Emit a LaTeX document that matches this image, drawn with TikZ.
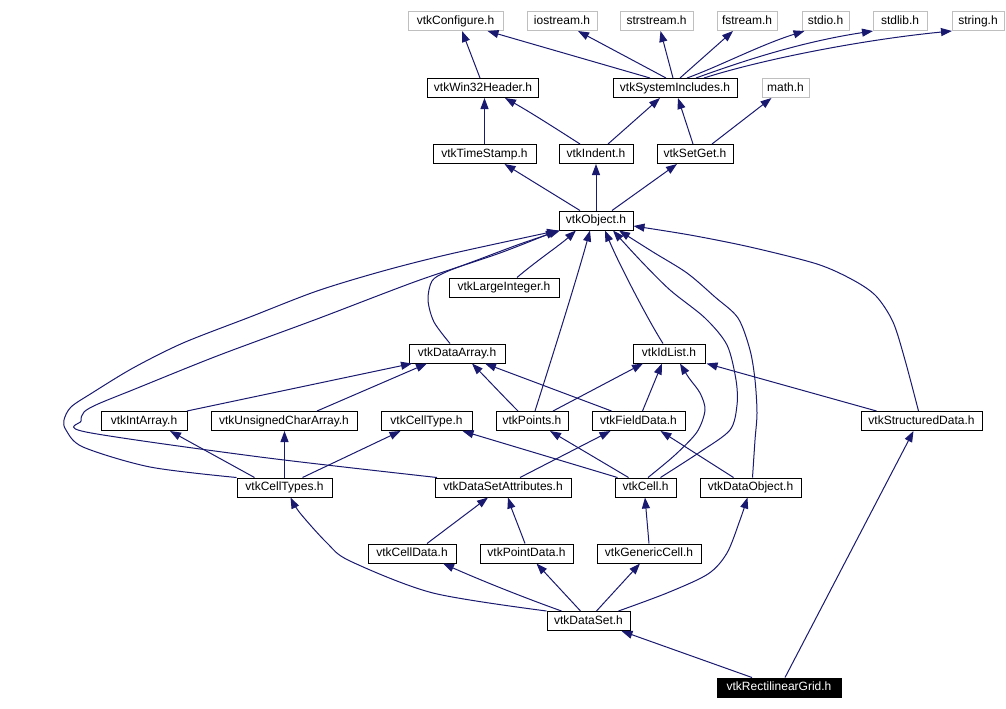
\documentclass[tikz,border=0pt]{standalone}
\usepackage{fontspec}
\setmainfont{Liberation Sans}
\usetikzlibrary{arrows.meta}
\definecolor{edgeblue}{RGB}{25,25,112}
\definecolor{boxgray}{RGB}{191,191,191}
\begin{document}
\begin{tikzpicture}[x=1pt,y=-1pt,
  hbox/.style={draw=black, line width=1pt, rectangle, inner sep=0pt, minimum height=19pt, text height=8.6pt, text depth=2.4pt, font=\fontsize{12}{14}\selectfont},
  sysbox/.style={hbox, draw=boxgray},
  rootbox/.style={hbox, fill=black, text=white},
  e/.style={draw=edgeblue, line width=1pt, -{Triangle[length=11pt,width=8pt]}}
]
\useasboundingbox (0,0) rectangle (1006,709);
% row 1
\node[sysbox, minimum width=95pt] (cfg) at (455.5,21) {vtkConfigure.h};
\node[sysbox, minimum width=70pt] (ios) at (562,21) {iostream.h};
\node[sysbox, minimum width=73pt] (sstr) at (656.5,21) {strstream.h};
\node[sysbox, minimum width=60pt] (fstr) at (747,21) {fstream.h};
\node[sysbox, minimum width=47pt] (stdio) at (825.5,21) {stdio.h};
\node[sysbox, minimum width=54pt] (stdlib) at (900,21) {stdlib.h};
\node[sysbox, minimum width=52pt] (string) at (978,21) {string.h};
% row 2
\node[hbox, minimum width=111pt] (w32) at (483,88) {vtkWin32Header.h};
\node[hbox, minimum width=124pt] (sys) at (675,88) {vtkSystemIncludes.h};
\node[sysbox, minimum width=47pt] (math) at (785.5,88) {math.h};
% row 3
\node[hbox, minimum width=103pt] (ts) at (484.5,154) {vtkTimeStamp.h};
\node[hbox, minimum width=74pt] (ind) at (596,154) {vtkIndent.h};
\node[hbox, minimum width=76pt] (sg) at (695,154) {vtkSetGet.h};
% row 4
\node[hbox, minimum width=74pt] (obj) at (596,220.5) {vtkObject.h};
% row 5
\node[hbox, minimum width=110pt] (li) at (504,287.5) {vtkLargeInteger.h};
% row 6
\node[hbox, minimum width=96pt] (da) at (457,353.5) {vtkDataArray.h};
\node[hbox, minimum width=72pt] (idl) at (669,353.5) {vtkIdList.h};
% row 7
\node[hbox, minimum width=86pt] (ia) at (144,421) {vtkIntArray.h};
\node[hbox, minimum width=146pt] (uca) at (284,421) {vtkUnsignedCharArray.h};
\node[hbox, minimum width=91pt] (ctype) at (426.5,421) {vtkCellType.h};
\node[hbox, minimum width=72pt] (pts) at (532,421) {vtkPoints.h};
\node[hbox, minimum width=93pt] (fd) at (638.5,421) {vtkFieldData.h};
\node[hbox, minimum width=121pt] (sd) at (921.5,421) {vtkStructuredData.h};
% row 8
\node[hbox, minimum width=95pt] (cts) at (284.5,487.5) {vtkCellTypes.h};
\node[hbox, minimum width=136pt] (dsa) at (503,487.5) {vtkDataSetAttributes.h};
\node[hbox, minimum width=61pt] (cell) at (645.5,487.5) {vtkCell.h};
\node[hbox, minimum width=101pt] (dobj) at (750.5,487.5) {vtkDataObject.h};
% row 9
\node[hbox, minimum width=88pt] (cd) at (412,553.5) {vtkCellData.h};
\node[hbox, minimum width=93pt] (pd) at (526.5,553.5) {vtkPointData.h};
\node[hbox, minimum width=104pt] (gc) at (649,553.5) {vtkGenericCell.h};
% row 10
\node[hbox, minimum width=83pt] (ds) at (588.5,621) {vtkDataSet.h};
% row 11
\node[rootbox, minimum width=124pt] (rg) at (779,687.5) {vtkRectilinearGrid.h};

% top edges
\draw[e] ([xshift=-3pt]w32.north) -- ([xshift=6.5pt]cfg.south);
\draw[e] ([xshift=-25pt]sys.north) -- ([xshift=32pt]cfg.south);
\draw[e] ([xshift=-9pt]sys.north) -- ([xshift=16pt]ios.south);
\draw[e] ([xshift=-2pt]sys.north) -- ([xshift=4pt]sstr.south);
\draw[e] ([xshift=5pt]sys.north) -- ([xshift=-14pt]fstr.south);
\draw[e] ([xshift=12pt]sys.north) .. controls (720,66) and (760,45) .. ([xshift=-21pt]stdio.south);
\draw[e] ([xshift=21pt]sys.north) .. controls (740,62) and (800,42) .. ([xshift=-27pt]stdlib.south);
\draw[e] ([xshift=29pt]sys.north) .. controls (760,60) and (860,40) .. ([xshift=-26pt]string.south);
\draw[e] (ts.north) -- (ts.north |- w32.south);
\draw[e] ([xshift=-16pt]ind.north) .. controls (555,128) and (530,112) .. ([xshift=22pt]w32.south);
\draw[e] ([xshift=12pt]ind.north) -- ([xshift=-15pt]sys.south);
\draw[e] ([xshift=-2pt]sg.north) -- ([xshift=3pt]sys.south);
\draw[e] ([xshift=17pt]sg.north) -- ([xshift=-14pt]math.south);
\draw[e] ([xshift=-16pt]obj.north) -- ([xshift=20pt]ts.south);
\draw[e] (obj.north) -- (ind.south);
\draw[e] ([xshift=16pt]obj.north) -- ([xshift=-18pt]sg.south);

% into vtkObject
\draw[e] ([xshift=13pt]li.north) .. controls (535,262) and (560,245) .. ([xshift=-20pt]obj.south);
\draw[e] ([xshift=3pt]pts.north) .. controls (548,370) and (575,285) .. ([xshift=-6pt]obj.south);
\draw[e] ([xshift=-6pt]idl.north) .. controls (648,320) and (618,262) .. ([xshift=9pt]obj.south);
\draw[e] plot[smooth] coordinates {([xshift=15pt]cell.north) (700,452) (730,430) (737,405) (736,380) (727,345) (705,318) (670,290) (640,260) ([xshift=17pt]obj.south)};
\draw[e] plot[smooth] coordinates {([xshift=2pt]dobj.north) (755,440) (757,413) (755,380) (750,350) (738,318) (715,297) (687,273) (653,252) ([xshift=23pt]obj.south)};
\draw[e] plot[smooth] coordinates {([xshift=-3pt]sd.north) (905,360) (893,322) (876,296) (853,280) (817,264) (750,247) (690,235) ([yshift=-5.5pt]obj.east)};
\draw[e] plot[smooth] coordinates {([xshift=-7pt]da.north) (434,322) (428,300) (432,281) (446,272) (480,259) (520,244) ([xshift=-36pt]obj.south)};
\draw[e] plot[smooth] coordinates {(cts.north west) (150,467) (83,447) (66,430) (64,420) (71,407) (92,393) (133,368) (183,343) (250,317) (317,291) (383,271) (450,254) ([xshift=-38pt]obj.south)};
\draw[e] plot[smooth] coordinates {([xshift=-66pt]dsa.north) (260,457) (86,432) (81,421) (84,412) (98,404) (135,389) (217,356) (317,319) (417,281) (500,253) ([xshift=-39pt]obj.south)};

% into vtkDataArray
\draw[e] ([xshift=43pt]ia.north) -- ([xshift=-45pt]da.south);
\draw[e] ([xshift=33pt]uca.north) -- ([xshift=-30pt]da.south);
\draw[e] ([xshift=-14pt]pts.north) .. controls (505,398) and (490,382) .. ([xshift=15pt]da.south);
\draw[e] ([xshift=-27pt]fd.north) -- ([xshift=28pt]da.south);

% into vtkIdList
\draw[e] ([xshift=21pt]pts.north) -- ([xshift=-26pt]idl.south);
\draw[e] ([xshift=4pt]fd.north) -- ([xshift=-7pt]idl.south);
\draw[e] plot[smooth] coordinates {([xshift=2.5pt]cell.north) (675,455) (697,432) (705,410) (700,393) (689,378) ([xshift=11pt]idl.south)};
\draw[e] ([xshift=-45pt]sd.north) -- ([xshift=1pt]idl.south east);

% row 7 targets
\draw[e] ([xshift=-30pt]cts.north) -- ([xshift=26pt]ia.south);
\draw[e] (cts.north) -- (cts.north |- uca.south);
\draw[e] ([xshift=18pt]cts.north) -- ([xshift=-26pt]ctype.south);
\draw[e] ([xshift=-28pt]cell.north) -- ([xshift=36pt]ctype.south);
\draw[e] ([xshift=-17pt]cell.north) -- ([xshift=18pt]pts.south);
\draw[e] ([xshift=17pt]dsa.north) -- ([xshift=-28pt]fd.south);
\draw[e] ([xshift=-17pt]dobj.north) -- ([xshift=22pt]fd.south);
\draw[e] ([xshift=6pt]rg.north) -- ([xshift=-8pt]sd.south);

% row 8 targets
\draw[e] plot[smooth] coordinates {(ds.north west) (433,593) (350,561) (327,543) (300,513) ([xshift=6pt]cts.south)};
\draw[e] ([xshift=15pt]cd.north) -- ([xshift=-15pt]dsa.south);
\draw[e] ([xshift=-1.5pt]pd.north) .. controls (518,525) and (512,510) .. ([xshift=5pt]dsa.south);
\draw[e] (gc.north) -- ([xshift=-0.5pt]cell.south);
\draw[e] plot[smooth] coordinates {([xshift=30pt]ds.north) (667,593) (708,574) (727,553) (740,520) ([xshift=-3pt]dobj.south)};

% row 9 / 10 targets
\draw[e] ([xshift=-27pt]ds.north) .. controls (525,598) and (480,580) .. ([xshift=31pt]cd.south);
\draw[e] ([xshift=-8pt]ds.north) -- ([xshift=10pt]pd.south);
\draw[e] ([xshift=8pt]ds.north) -- ([xshift=-9pt]gc.south);
\draw[e] ([xshift=-27pt]rg.north) -- ([xshift=33pt]ds.south);
\end{tikzpicture}
\end{document}
